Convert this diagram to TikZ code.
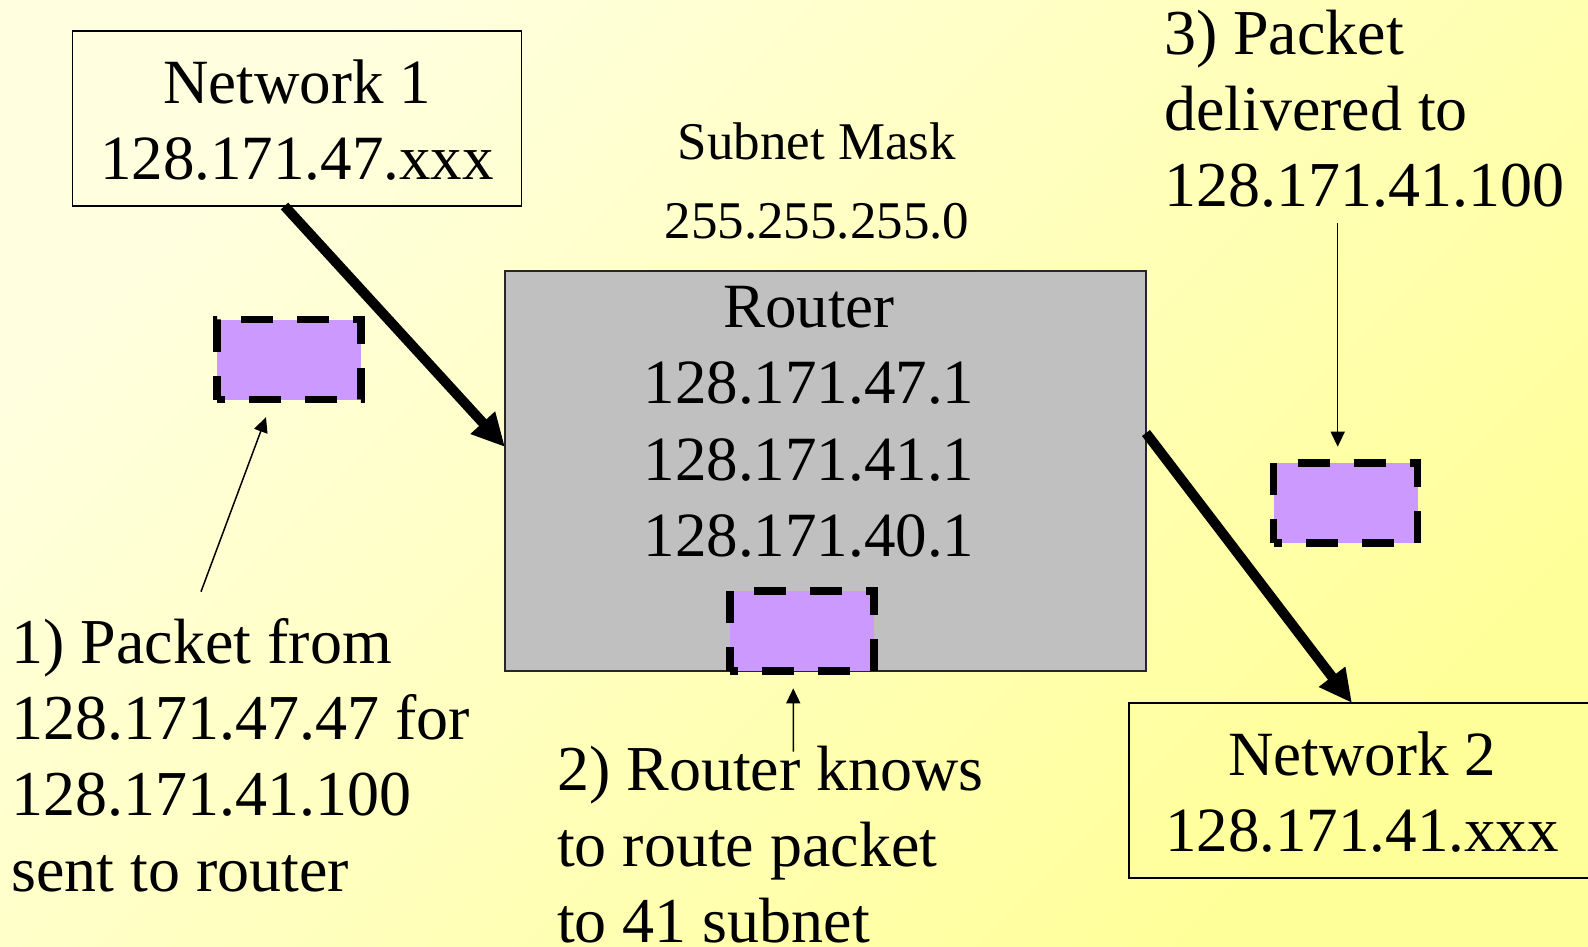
\documentclass[tikz,border=0pt]{standalone}
\usepackage{fontspec}
\setmainfont{Liberation Serif}
\usetikzlibrary{arrows.meta}
\definecolor{bgtop}{HTML}{FFFFE0}
\definecolor{bgbot}{HTML}{FFFF99}
\definecolor{packet}{HTML}{CC99FF}
\definecolor{routergray}{HTML}{C0C0C0}

\begin{document}
\begin{tikzpicture}[x=1pt,y=-1pt,
  netbox/.style={draw=black, line width=1.5pt, inner sep=0pt, outer sep=0pt},
  routerbox/.style={draw=black!85, fill=routergray, line width=1.5pt, inner sep=0pt, outer sep=0pt},
  packetbox/.style={fill=packet, inner sep=0pt, outer sep=0pt, minimum width=144pt, minimum height=80pt},
  packetedge/.style={draw=black, line width=7.5pt, dash pattern=on 32pt off 24pt, dash phase=8pt},
  bigtext/.style={inner sep=0pt, outer sep=0pt, font=\fontsize{63}{76.5}\selectfont},
  notetext/.style={inner sep=0pt, outer sep=0pt, font=\fontsize{64}{76}\selectfont},
  masktext/.style={inner sep=0pt, outer sep=0pt, font=\fontsize{53}{78.3}\selectfont},
  flow/.style={line width=10pt, -{Triangle[length=33pt,width=31pt]}},
  pointer/.style={line width=1.5pt, -{Triangle[length=15pt,width=14pt]}},
]
% background
\shade[top color=bgtop, bottom color=bgbot, shading angle=45] (0,0) rectangle (1588,947);
\useasboundingbox (0,0) rectangle (1588,947);

\begin{scope}
\clip (0,0) rectangle (1588,947);

% networks and router
\node[netbox, minimum width=449pt, minimum height=175pt] (net1) at (297,118.5) {};
\node[netbox, minimum width=466pt, minimum height=175pt] (net2) at (1362,790.5) {};
\node[routerbox, minimum width=641pt, minimum height=400pt] (router) at (825.5,471) {};

% packets, each with a dashed outline traced clockwise from its lower left corner
\foreach \p/\x/\y in {pktA/289/359.5, pktB/801.75/631, pktC/1345.5/503}{
  \node[packetbox] (\p) at (\x,\y) {};
  \draw[packetedge] (\p.south west) -- (\p.north west) -- (\p.north east)
    -- (\p.south east) -- cycle;
}

% texts
\node[bigtext, anchor=base] (net1txt) at (297,103.3)
  {\begin{tabular}[t]{@{}c@{}}Network 1\\128.171.47.xxx\end{tabular}};
\node[bigtext, anchor=base] (net2txt) at (1362,775)
  {\begin{tabular}[t]{@{}c@{}}Network 2\\128.171.41.xxx\end{tabular}};
\node[bigtext, anchor=base] (routertxt) at (809,327)
  {\begin{tabular}[t]{@{}c@{}}Router\\128.171.47.1\\128.171.41.1\\128.171.40.1\end{tabular}};
\node[masktext, anchor=base] (mask) at (817,160)
  {\begin{tabular}[t]{@{}c@{}}Subnet Mask\\255.255.255.0\end{tabular}};
\node[notetext, anchor=base west] (note1) at (11.5,663.3)
  {\begin{tabular}[t]{@{}l@{}}1) Packet from\\128.171.47.47 for\\128.171.41.100\\sent to router\end{tabular}};
\node[notetext, anchor=base west] (note2) at (557,790.7)
  {\begin{tabular}[t]{@{}l@{}}2) Router knows\\to route packet\\to 41 subnet\end{tabular}};
\node[notetext, anchor=base west] (note3) at (1164,55)
  {\begin{tabular}[t]{@{}l@{}}3) Packet\\delivered to\\128.171.41.100\end{tabular}};

% packet flow
\draw[flow] ([xshift=212pt]net1.south west) -- ([yshift=24pt]router.west);
\draw[flow] ([yshift=38pt]router.east) -- ([xshift=223pt]net2.north west);

% callout pointers
\coordinate (c1) at (201,591.7);
\coordinate (c2) at (793.3,751.7);
\coordinate (c3) at (1337.7,223.3);
\draw[pointer] (c1) -- ([xshift=-23pt,yshift=-17.7pt]pktA.south);
\draw[pointer] (c2) -- ([xshift=-8.5pt,yshift=-17.3pt]pktB.south);
\draw[pointer] (c3) -- ([xshift=-7.8pt,yshift=16.3pt]pktC.north);
\end{scope}
\end{tikzpicture}
\end{document}
